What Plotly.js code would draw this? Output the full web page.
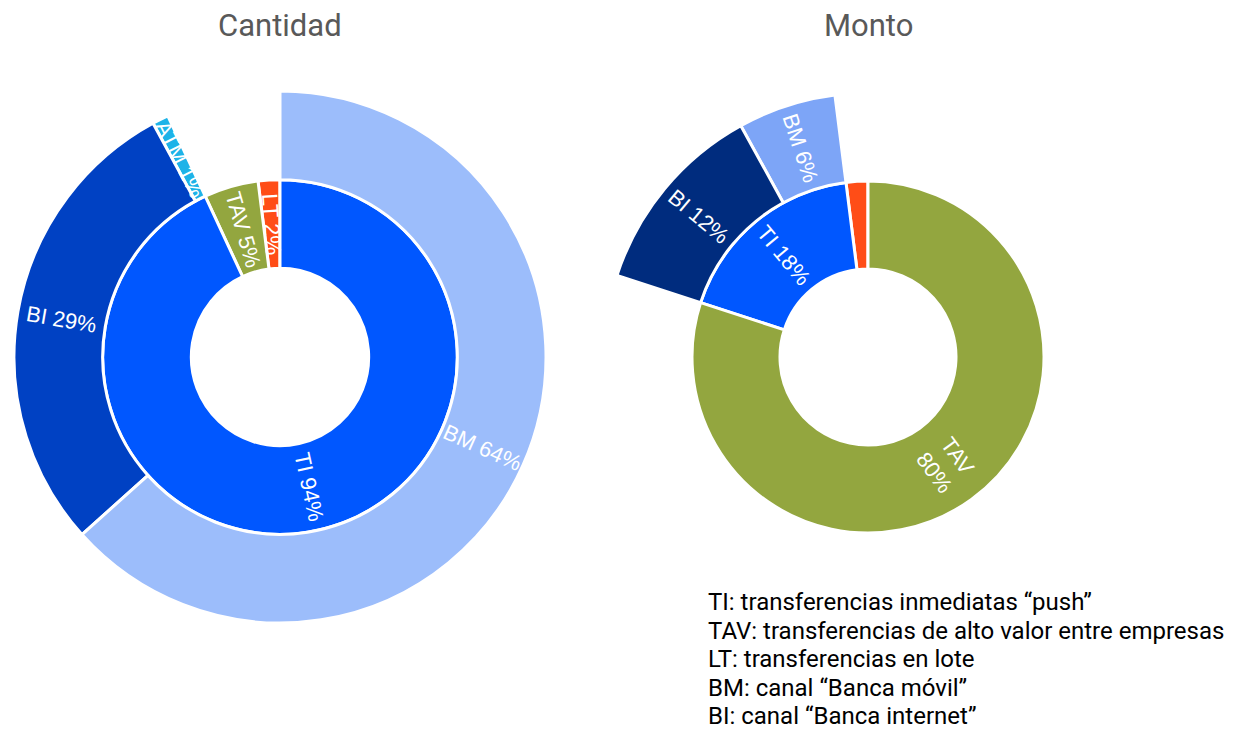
<!DOCTYPE html>
<html>
<head>
<meta charset="utf-8">
<script src="https://cdn.plot.ly/plotly-3.0.1.min.js"></script>
<style>html,body{margin:0;padding:0;background:#fff;}#chart{width:1245px;height:731px;}</style>
</head>
<body>
<div id="chart"></div>
<script>
// ---- Data: Cantidad (left) ----
// order counterclockwise from 12 o'clock (reverse of clockwise reading)
const cantIds     = ["root", "LT", "TAV", "TI", "ATM", "BI", "BM"];
const cantLabels  = ["", "LT", "TAV", "TI", "ATM", "BI", "BM"];
const cantParents = ["", "root", "root", "root", "TI", "TI", "TI"];
const cantValues  = [101, 2, 5, 94, 1, 29, 64];
const cantColors  = ["#ffffff", "#FF4D17", "#93A63F", "#0057FF", "#1DB3E8", "#0041C3", "#9CBDFB"];

// ---- Data: Monto (right) ----
const montIds     = ["root", "LT", "TI", "TAV", "BM", "BI"];
const montLabels  = ["", "LT", "TI", "TAV", "BM", "BI"];
const montParents = ["", "root", "root", "root", "TI", "TI"];
const montValues  = [100, 2, 18, 80, 6, 12];
const montColors  = ["#ffffff", "#FF4D17", "#0057FF", "#93A63F", "#7DA5F7", "#002C7E"];

// ---- Text ----
const titles = ["Cantidad", "Monto"];
const legendLines = [
  "TI: transferencias inmediatas \u201Cpush\u201D",
  "TAV: transferencias de alto valor entre empresas",
  "LT: transferencias en lote",
  "BM: canal \u201CBanca m\u00F3vil\u201D",
  "BI: canal \u201CBanca internet\u201D"
];

const W = 1245, H = 731;
const charts = [
  {ids: cantIds, labels: cantLabels, parents: cantParents, values: cantValues, colors: cantColors, cx: 280, cy: 357, R: 266, twoLine: [], hidden: []},
  {ids: montIds, labels: montLabels, parents: montParents, values: montValues, colors: montColors, cx: 868, cy: 357, R: 264, twoLine: ["TAV"], hidden: ["LT"]}
];

function dom(cx, cy, r) {
  return {x: [(cx - r) / W, (cx + r) / W], y: [(H - cy - r) / H, (H - cy + r) / H]};
}

// compute sector label placements from the data (counterclockwise layout from 12 o'clock)
function sectorLabels(c) {
  const info = {};
  c.ids.forEach((id, i) => { info[id] = {i: i, value: c.values[i], parent: c.parents[i], kids: []}; });
  c.ids.forEach((id, i) => { if (c.parents[i] !== "") info[c.parents[i]].kids.push(id); });
  const out = [];
  function walk(id, start, span, depth) {
    const node = info[id];
    const lab = c.labels[node.i];
    if (depth > 0 && c.hidden.indexOf(lab) < 0) {
      const mid = start + span / 2;           // CCW degrees from top
      const theta = ((360 - mid) % 360 + 360) % 360; // CW degrees from top
      const ring = c.R / 3;
      const r = (depth + 0.5) * ring;
      const px = c.cx + r * Math.sin(theta * Math.PI / 180);
      const py = c.cy - r * Math.cos(theta * Math.PI / 180);
      const ang = theta <= 180 ? theta - 90 : theta - 270;
      const sep = c.twoLine.indexOf(lab) >= 0 ? "<br>" : " ";
      out.push({
        text: lab + sep + node.value + "%",
        xref: "paper", yref: "paper", x: px / W, y: (H - py) / H,
        xanchor: "center", yanchor: "middle", showarrow: false, textangle: ang,
        font: {family: "Liberation Sans, Arial, sans-serif", size: 22, color: "#ffffff"}
      });
    }
    let acc = start;
    node.kids.forEach(k => {
      const s = info[k].value / node.value * span;
      walk(k, acc, s, depth + 1);
      acc += s;
    });
  }
  const rootId = c.ids[c.parents.indexOf("")];
  walk(rootId, 0, 360, 0);
  return out;
}

const traces = charts.map(c => ({
  type: "sunburst",
  ids: c.ids, labels: c.labels, parents: c.parents, values: c.values,
  branchvalues: "total",
  sort: false,
  rotation: 90,
  textinfo: "none",
  hoverinfo: "none",
  leaf: {opacity: 1},
  marker: {colors: c.colors, line: {color: "#ffffff", width: 3}},
  domain: dom(c.cx, c.cy, c.R)
}));

const annotations = [];
charts.forEach(c => { sectorLabels(c).forEach(a => annotations.push(a)); });

const titleX = [280, 868];
titles.forEach((t, i) => {
  annotations.push({
    text: t, xref: "paper", yref: "paper", x: titleX[i] / W, y: (H - 26) / H,
    xanchor: "center", yanchor: "middle", showarrow: false,
    font: {family: "Roboto, sans-serif", size: 31, color: "#595959"}
  });
});
const lineY = [602, 631, 659, 688, 716];
legendLines.forEach((t, i) => {
  annotations.push({
    text: t, xref: "paper", yref: "paper", x: 706 / W, y: (H - lineY[i]) / H,
    xanchor: "left", yanchor: "middle", showarrow: false,
    font: {family: "Roboto, sans-serif", size: 24, color: "#000000"}
  });
});

const layout = {
  width: W, height: H,
  margin: {l: 0, r: 0, t: 0, b: 0},
  paper_bgcolor: "#ffffff",
  showlegend: false,
  annotations: annotations
};

Plotly.newPlot("chart", traces, layout, {staticPlot: true, displayModeBar: false});
</script>
</body>
</html>
